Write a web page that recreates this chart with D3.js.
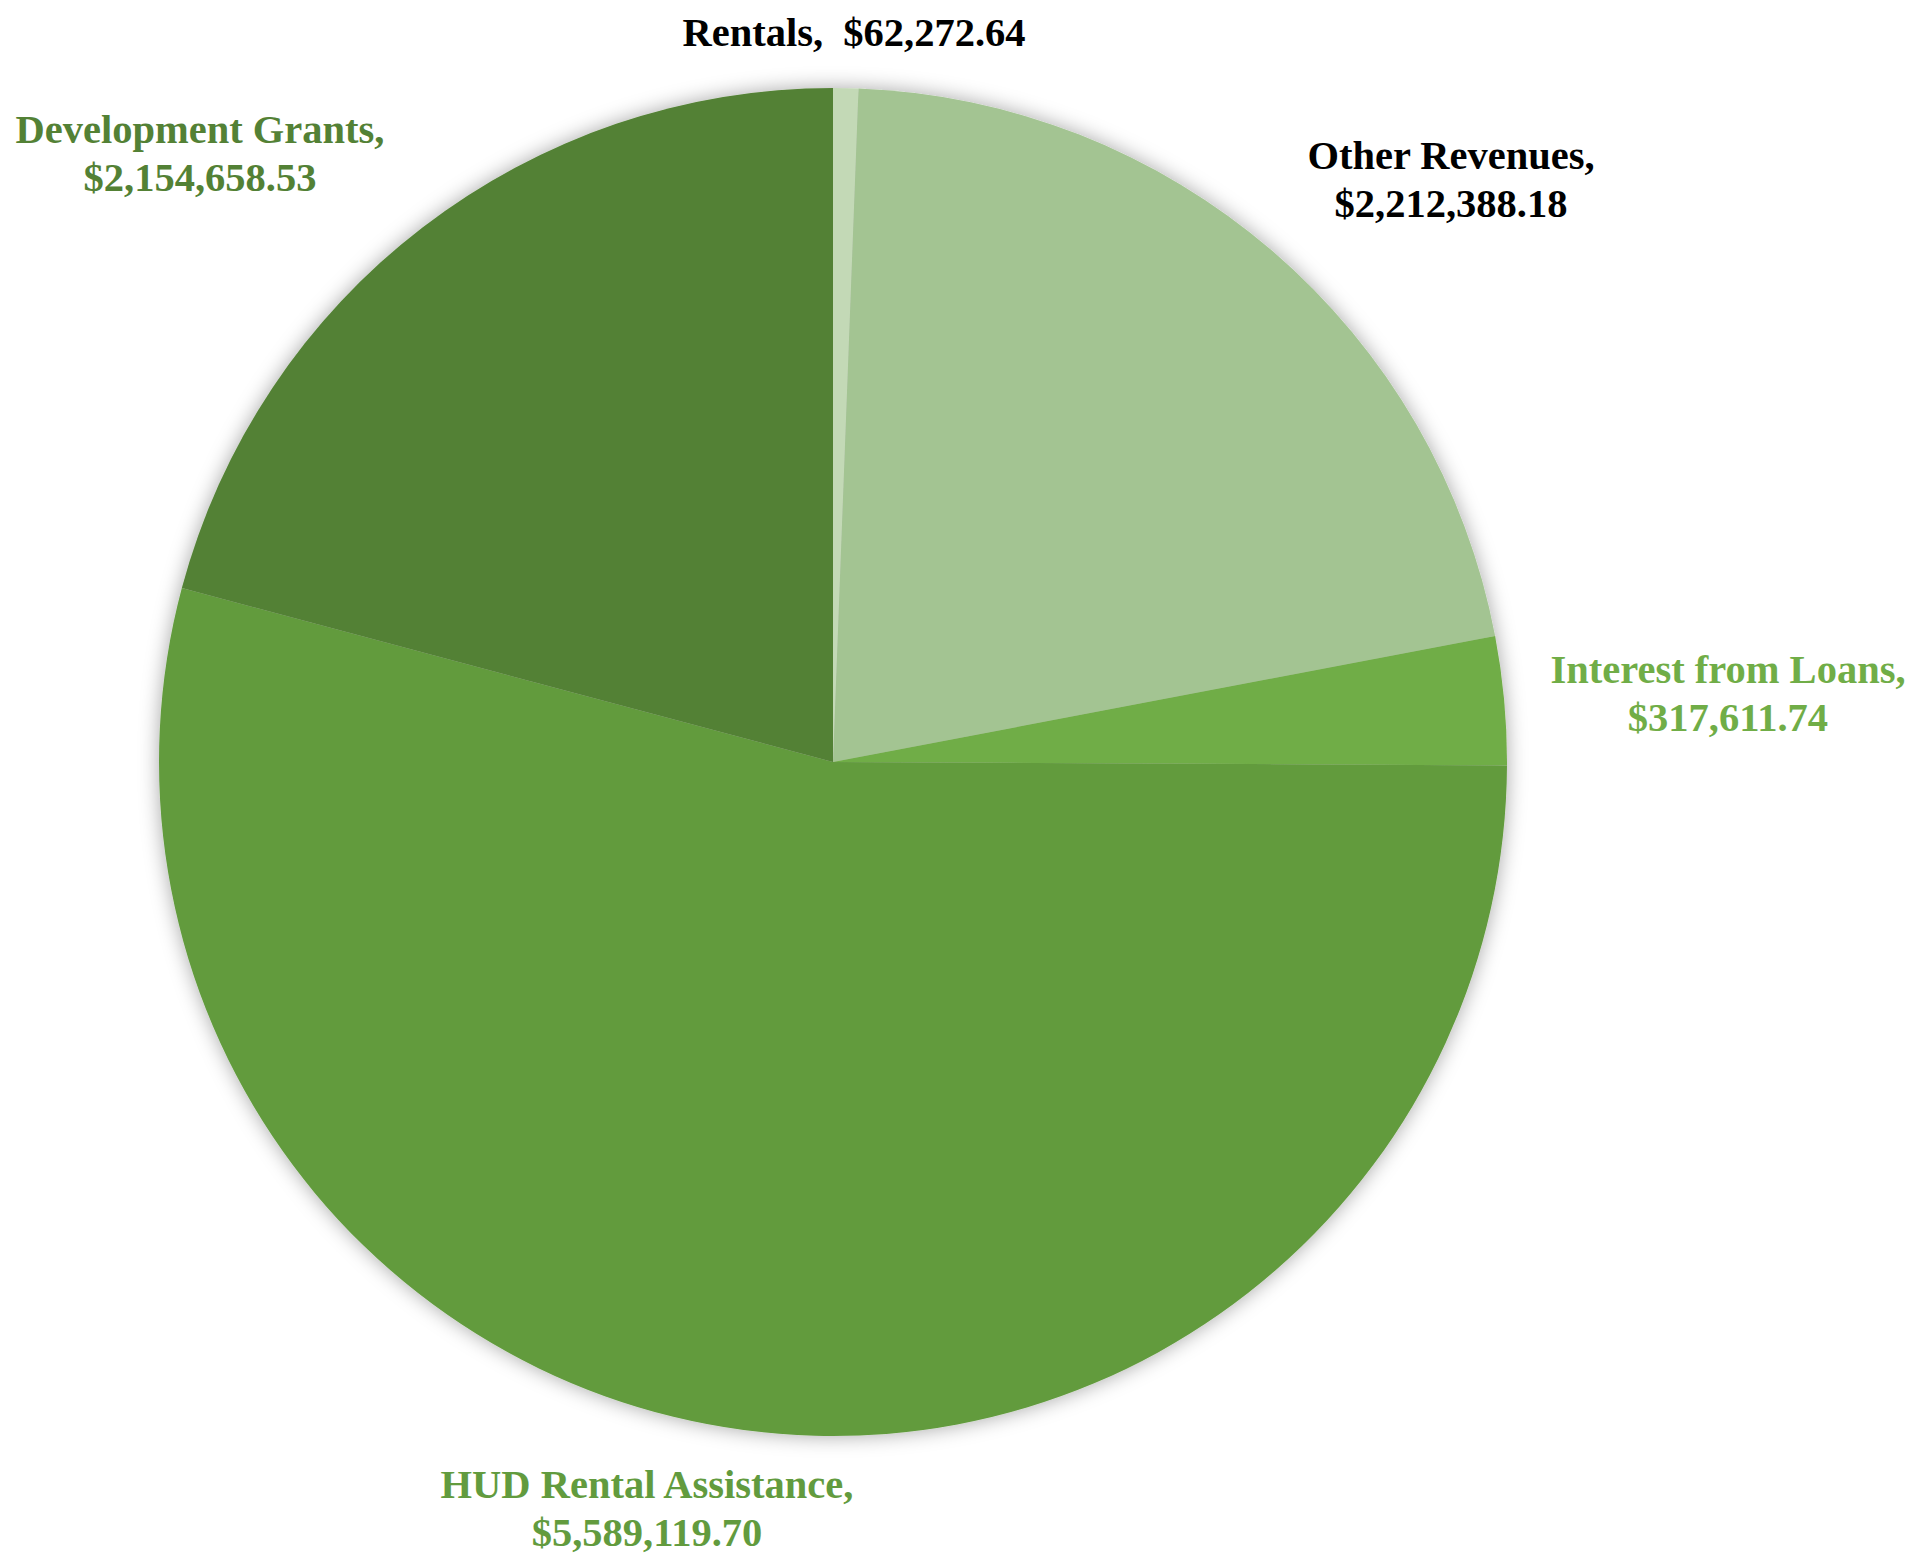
<!DOCTYPE html>
<html>
<head>
<meta charset="utf-8">
<script src="https://cdn.jsdelivr.net/npm/d3@7"></script>
<style>
  body { margin: 0; background: #fff; }
  text { font-family: "Liberation Serif", "Times New Roman", serif; font-weight: bold; white-space: pre; }
</style>
</head>
<body>
<div id="chart"></div>
<script>
const width = 1913;
const height = 1559;

// Fatias no sentido horário a partir do topo
const categories = ["Rentals", "Other Revenues", "Interest from Loans", "HUD Rental Assistance", "Development Grants"];
const values = [62272.64, 2212388.18, 317611.74, 5589119.70, 2154658.53];
const valueLabels = ["$62,272.64", "$2,212,388.18", "$317,611.74", "$5,589,119.70", "$2,154,658.53"];
const sliceColors = ["#c3d9b6", "#a3c492", "#70ad47", "#629b3e", "#538135"];
const labelColors = ["#000000", "#000000", "#70ad47", "#629b3e", "#538135"];

const data = categories.map((c, i) => ({ name: c, value: values[i], label: valueLabels[i], i }));

const cx = 833, cy = 762, radius = 674;

const svg = d3.select("#chart").append("svg")
    .attr("width", width)
    .attr("height", height);

// Sombra suave
const filter = svg.append("defs").append("filter")
    .attr("id", "shadow")
    .attr("x", "-10%").attr("y", "-10%")
    .attr("width", "120%").attr("height", "120%");
filter.append("feDropShadow")
    .attr("dx", 0).attr("dy", 0)
    .attr("stdDeviation", 10)
    .attr("flood-color", "#000")
    .attr("flood-opacity", 0.35);

const pie = d3.pie().value(d => d.value).sort(null);
const arc = d3.arc().innerRadius(0).outerRadius(radius);

const g = svg.append("g")
    .attr("transform", `translate(${cx},${cy})`)
    .attr("filter", "url(#shadow)");

g.selectAll("path")
    .data(pie(data))
    .enter().append("path")
    .attr("d", arc)
    .attr("fill", d => sliceColors[d.data.i]);

// Posição dos rótulos (centro do texto, linha de base da primeira linha)
const labelPos = [
    { x: 854, y: 46, oneLine: true },
    { x: 1451, y: 169 },
    { x: 1728, y: 683 },
    { x: 647, y: 1498 },
    { x: 200, y: 143 }
];

const labels = svg.selectAll(".label")
    .data(data)
    .enter().append("text")
    .attr("class", "label")
    .attr("text-anchor", "middle")
    .attr("font-size", 40.5)
    .attr("fill", d => labelColors[d.i]);

labels.each(function(d) {
    const p = labelPos[d.i];
    const t = d3.select(this);
    if (p.oneLine) {
        t.append("tspan").attr("x", p.x).attr("y", p.y).text(d.name + ",  " + d.label);
    } else {
        t.append("tspan").attr("x", p.x).attr("y", p.y).text(d.name + ",");
        t.append("tspan").attr("x", p.x).attr("y", p.y + 48).text(d.label);
    }
});
</script>
</body>
</html>
